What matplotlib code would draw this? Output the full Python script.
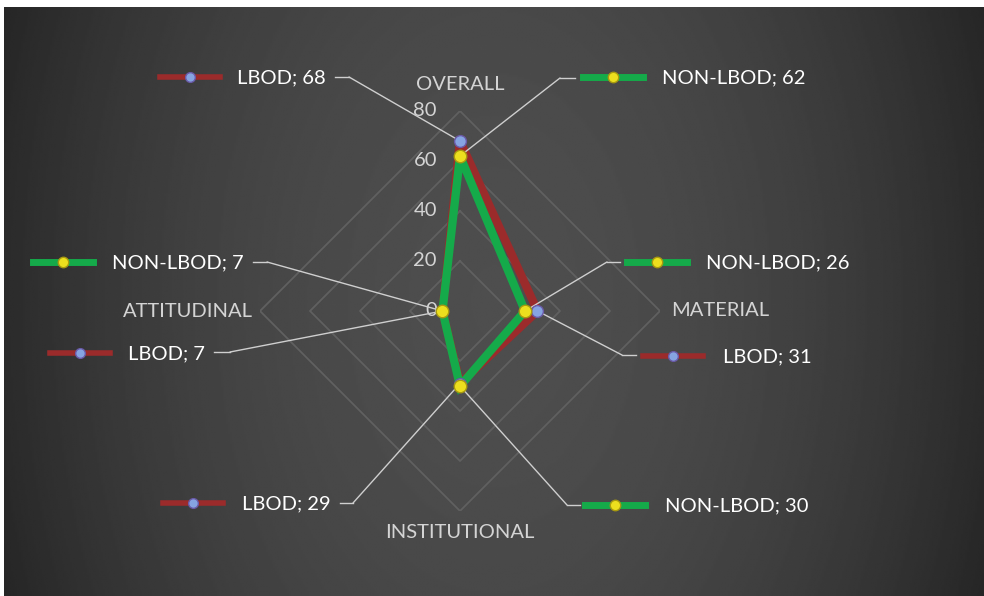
import numpy as np
import matplotlib
matplotlib.use('Agg')
import matplotlib.pyplot as plt
from matplotlib.lines import Line2D

# ---------------- data ----------------
categories = ['OVERALL', 'MATERIAL', 'INSTITUTIONAL', 'ATTITUDINAL']
series_names = ['LBOD', 'NON-LBOD']
lbod = [68, 31, 29, 7]
non_lbod = [62, 26, 30, 7]
r_ticks = [0, 20, 40, 60, 80]

# ---------------- style / layout ----------------
plt.rcParams['font.family'] = ['Lato', 'DejaVu Sans']
W, H = 984, 596
FS = 14.5
LBOD_LINE = '#9b2b2b'
LBOD_MARK = '#86a4e2'
LBOD_MEC = '#6a5aa8'
NON_LINE = '#15aa4a'
NON_MARK = '#ecdf1e'
NON_MEC = '#a89a10'
GRID = '#606060'
LEADER = '#cfcfcf'

def fx(x):
    return x / W

def fy(y):
    return 1 - y / H

fig = plt.figure(figsize=(W / 100, H / 100), dpi=100, facecolor='white')

# background panel with horizontal gradient
bg = fig.add_axes([4 / W, 0, 1 - 4 / W, 1 - 7 / H])
gx = np.linspace(-1, 1, 500)
gy = np.linspace(-1, 1, 300)
GX, GY = np.meshgrid(gx, gy)
shade = 0.305 - 0.135 * GX ** 2 - 0.02 * GY ** 2
bg.imshow(shade, cmap='gray', vmin=0, vmax=1, aspect='auto',
          extent=[0, 1, 0, 1], interpolation='bilinear')
bg.axis('off')

# radar axes: centre (460,311) px, radius 200 px for 80
cx, cy, R = 460, 311, 200
ax = fig.add_axes([(cx - R) / W, (H - cy - R) / H, 2 * R / W, 2 * R / H],
                  projection='polar')
ax.set_facecolor('none')
ax.set_theta_zero_location('N')
ax.set_theta_direction(-1)
ax.grid(False)
ax.spines['polar'].set_visible(False)
ax.set_xticks([])
ax.set_yticks([])

n = len(categories)
theta = np.arange(n) * 2 * np.pi / n
theta_c = np.append(theta, theta[0] + 2 * np.pi)

# diamond grid
for r in r_ticks[1:]:
    ax.plot(theta_c, [r] * (n + 1), color=GRID, lw=1.3, zorder=1)
ax.set_ylim(0, r_ticks[-1])

# radial tick labels
for r in r_ticks:
    ax.annotate(str(r), xy=(0, r), xytext=(-23, 0), textcoords='offset pixels',
                ha='right', va='center', color='#d4d4d4', fontsize=FS,
                annotation_clip=False)

# category labels
cat_r = [90.4, 104, 88.8, 108.8]
for t, lab, rr in zip(theta, categories, cat_r):
    ax.text(t, rr, lab, ha='center', va='center', color='#d4d4d4',
            fontsize=FS, clip_on=False)

# series lines
lv = np.append(lbod, lbod[0])
nv = np.append(non_lbod, non_lbod[0])
ax.plot(theta_c, lv, color=LBOD_LINE, lw=6.0, zorder=3, solid_joinstyle='miter')
ax.plot(theta_c, nv, color=NON_LINE, lw=6.0, zorder=4, solid_joinstyle='miter')
ax.plot(theta, lbod, ls='none', marker='o', ms=8.5, mfc=LBOD_MARK, mec=LBOD_MEC,
        mew=1.0, zorder=6)
ax.plot(theta, non_lbod, ls='none', marker='o', ms=9, mfc=NON_MARK, mec=NON_MEC,
        mew=1.0, zorder=6)

# data labels with legend keys and leader lines (layout in pixels)
# (series index, category index, key_x0, key_y, text_x, stub_x0, stub_x1, stub_y)
label_layout = [
    (0, 0, 160, 77, 237, 335, 349, 77),
    (1, 0, 583, 77, 662, 575, 560, 78),
    (1, 1, 627, 262, 706, 620, 607, 262),
    (0, 1, 643, 356, 723, 636, 622, 355),
    (1, 3, 33, 262, 112, 253, 267, 262),
    (0, 3, 50, 353, 128, 214, 230, 352),
    (0, 2, 163, 503, 242, 340, 353, 503),
    (1, 2, 585, 505, 665, 580, 567, 505),
]
series_vals = [lbod, non_lbod]
for si, ci, kx, ky, tx, sx0, sx1, sy in label_layout:
    val = series_vals[si][ci]
    if si == 0:
        lc, lw, mfc, mec, ms = LBOD_LINE, 4.0, LBOD_MARK, LBOD_MEC, 7
    else:
        lc, lw, mfc, mec, ms = NON_LINE, 5.0, NON_MARK, NON_MEC, 7.5
    fig.add_artist(Line2D([fx(kx), fx(kx + 60)], [fy(ky), fy(ky)], color=lc,
                          lw=lw, transform=fig.transFigure))
    fig.add_artist(Line2D([fx(kx + 30)], [fy(ky)], ls='none', marker='o', ms=ms,
                          mfc=mfc, mec=mec, mew=1.0, transform=fig.transFigure))
    fig.text(fx(tx), fy(ky + 1), f'{series_names[si]}; {val}', ha='left',
             va='center', color='white', fontsize=FS)
    fig.add_artist(Line2D([fx(sx0), fx(sx1)], [fy(sy), fy(sy)], color=LEADER,
                          lw=1.0, transform=fig.transFigure))
    ax.annotate('', xy=(theta[ci], val), xycoords='data',
                xytext=(fx(sx1), fy(sy)), textcoords='figure fraction',
                arrowprops=dict(arrowstyle='-', color=LEADER, lw=1.0,
                                shrinkA=0, shrinkB=4),
                annotation_clip=False, zorder=5)

fig.savefig('out.png', dpi=100, facecolor='white')
